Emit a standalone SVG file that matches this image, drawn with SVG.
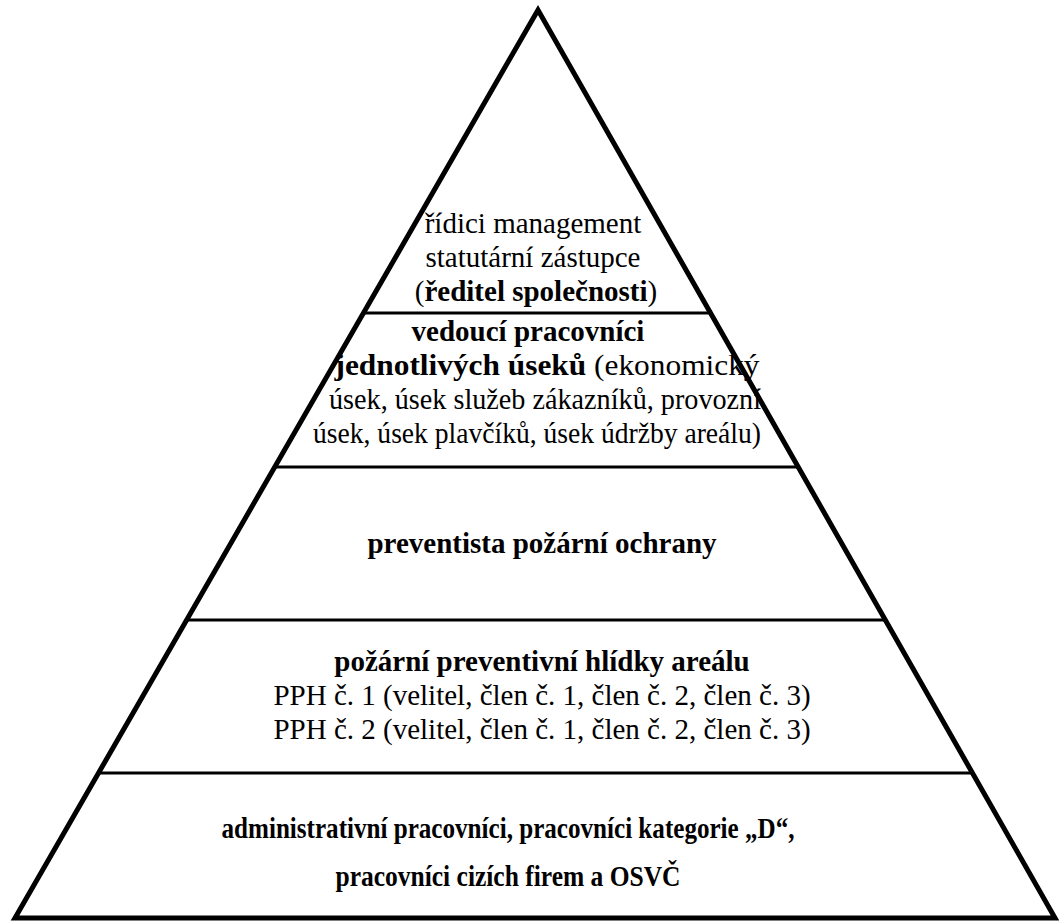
<svg xmlns="http://www.w3.org/2000/svg" width="1059" height="922" viewBox="0 0 1059 922">
<style>
.t{font-family:"Liberation Serif","Times New Roman",serif;font-size:29px;fill:#000;text-anchor:middle}
.b{font-weight:bold}
.side{fill:none;stroke:#000;stroke-width:5;stroke-linejoin:miter}
.div{stroke:#000;stroke-width:3}
</style>
<rect width="1059" height="922" fill="#fff"/>
<g id="frame">
<polygon class="side" points="538,10 15,918 1055,918"/>
<line class="div" x1="363" y1="313" x2="711" y2="313"/>
<line class="div" x1="275" y1="467" x2="798" y2="467"/>
<line class="div" x1="187" y1="620" x2="885" y2="620"/>
<line class="div" x1="98" y1="773" x2="972" y2="773"/>
</g>
<g id="tier1">
<text class="t" x="533" y="233">řídici management</text>
<text class="t" x="533" y="267">statutární zástupce</text>
<text class="t" x="536" y="301">(<tspan class="b">ředitel společnosti</tspan>)</text>
</g>
<g id="tier2">
<text class="t b" x="528" y="341">vedoucí pracovníci</text>
<text class="t" x="547" y="375" textLength="425" lengthAdjust="spacingAndGlyphs"><tspan class="b">jednotlivých úseků</tspan> (ekonomický</text>
<text class="t" x="545" y="409" textLength="432" lengthAdjust="spacingAndGlyphs">úsek, úsek služeb zákazníků, provozní</text>
<text class="t" x="537" y="443" textLength="448" lengthAdjust="spacingAndGlyphs">úsek, úsek plavčíků, úsek údržby areálu)</text>
</g>
<g id="tier3">
<text class="t b" x="542" y="553">preventista požární ochrany</text>
</g>
<g id="tier4">
<text class="t b" x="542" y="671">požární preventivní hlídky areálu</text>
<text class="t" x="542" y="705">PPH č. 1 (velitel, člen č. 1, člen č. 2, člen č. 3)</text>
<text class="t" x="542" y="739">PPH č. 2 (velitel, člen č. 1, člen č. 2, člen č. 3)</text>
</g>
<g id="tier5">
<text class="t b" x="508" y="838" textLength="573" lengthAdjust="spacingAndGlyphs">administrativní pracovníci, pracovníci kategorie „D“,</text>
<text class="t b" x="508" y="886" textLength="345" lengthAdjust="spacingAndGlyphs">pracovníci cizích firem a OSVČ</text>
</g>
<g id="connectors"></g>
</svg>
